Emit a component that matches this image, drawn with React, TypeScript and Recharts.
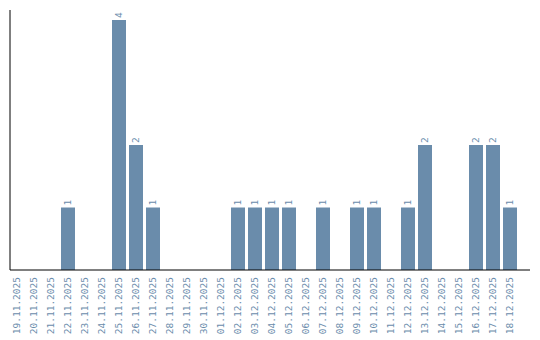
import { Bar, BarChart, LabelList, XAxis, YAxis } from "recharts";

const dates = [
  "19.11.2025", "20.11.2025", "21.11.2025", "22.11.2025", "23.11.2025", "24.11.2025",
  "25.11.2025", "26.11.2025", "27.11.2025", "28.11.2025", "29.11.2025", "30.11.2025",
  "01.12.2025", "02.12.2025", "03.12.2025", "04.12.2025", "05.12.2025", "06.12.2025",
  "07.12.2025", "08.12.2025", "09.12.2025", "10.12.2025", "11.12.2025", "12.12.2025",
  "13.12.2025", "14.12.2025", "15.12.2025", "16.12.2025", "17.12.2025", "18.12.2025",
];

const counts = [0, 0, 0, 1, 0, 0, 4, 2, 1, 0, 0, 0, 0, 1, 1, 1, 1, 0, 1, 0, 1, 1, 0, 1, 2, 0, 0, 2, 2, 1];

const chartData = dates.map((date, i) => ({ date, count: counts[i] }));

const COLOR = "#6a8cab";
const FONT = "'DejaVu Sans Mono', monospace";

function DateTick(props: any) {
  const { x, payload } = props;
  const y = 277;
  return (
    <text
      x={x}
      y={y}
      transform={`rotate(-90, ${x}, ${y})`}
      textAnchor="end"
      dy="0.35em"
      fill={COLOR}
      fontSize={9.5}
      fontFamily={FONT}
    >
      {payload.value}
    </text>
  );
}

function ValueLabel(props: any) {
  const { x, y, width, value } = props;
  if (!value) return null;
  const cx = x + width / 2;
  const cy = y - 2;
  return (
    <text
      x={cx}
      y={cy}
      transform={`rotate(-90, ${cx}, ${cy})`}
      textAnchor="start"
      dy="0.35em"
      fill={COLOR}
      fontSize={9.5}
      fontFamily={FONT}
    >
      {value}
    </text>
  );
}

export default function App() {
  return (
    <div style={{ position: "absolute", left: 0, top: 0, width: 540, height: 340, background: "#fff" }}>
      <BarChart
        width={540}
        height={340}
        data={chartData}
        margin={{ top: 10, right: 10, left: 9, bottom: 0 }}
        barCategoryGap={1.5}
      >
        <XAxis
          dataKey="date"
          interval={0}
          height={70}
          tickLine={false}
          axisLine={{ stroke: "#000" }}
          tick={<DateTick />}
          padding={{ left: -1.5, right: 11.5 }}
        />
        <YAxis
          width={1}
          tick={false}
          tickLine={false}
          axisLine={{ stroke: "#000" }}
          domain={[0, 4]}
          padding={{ top: 10 }}
        />
        <Bar dataKey="count" fill={COLOR} isAnimationActive={false}>
          <LabelList dataKey="count" content={<ValueLabel />} />
        </Bar>
      </BarChart>
    </div>
  );
}
